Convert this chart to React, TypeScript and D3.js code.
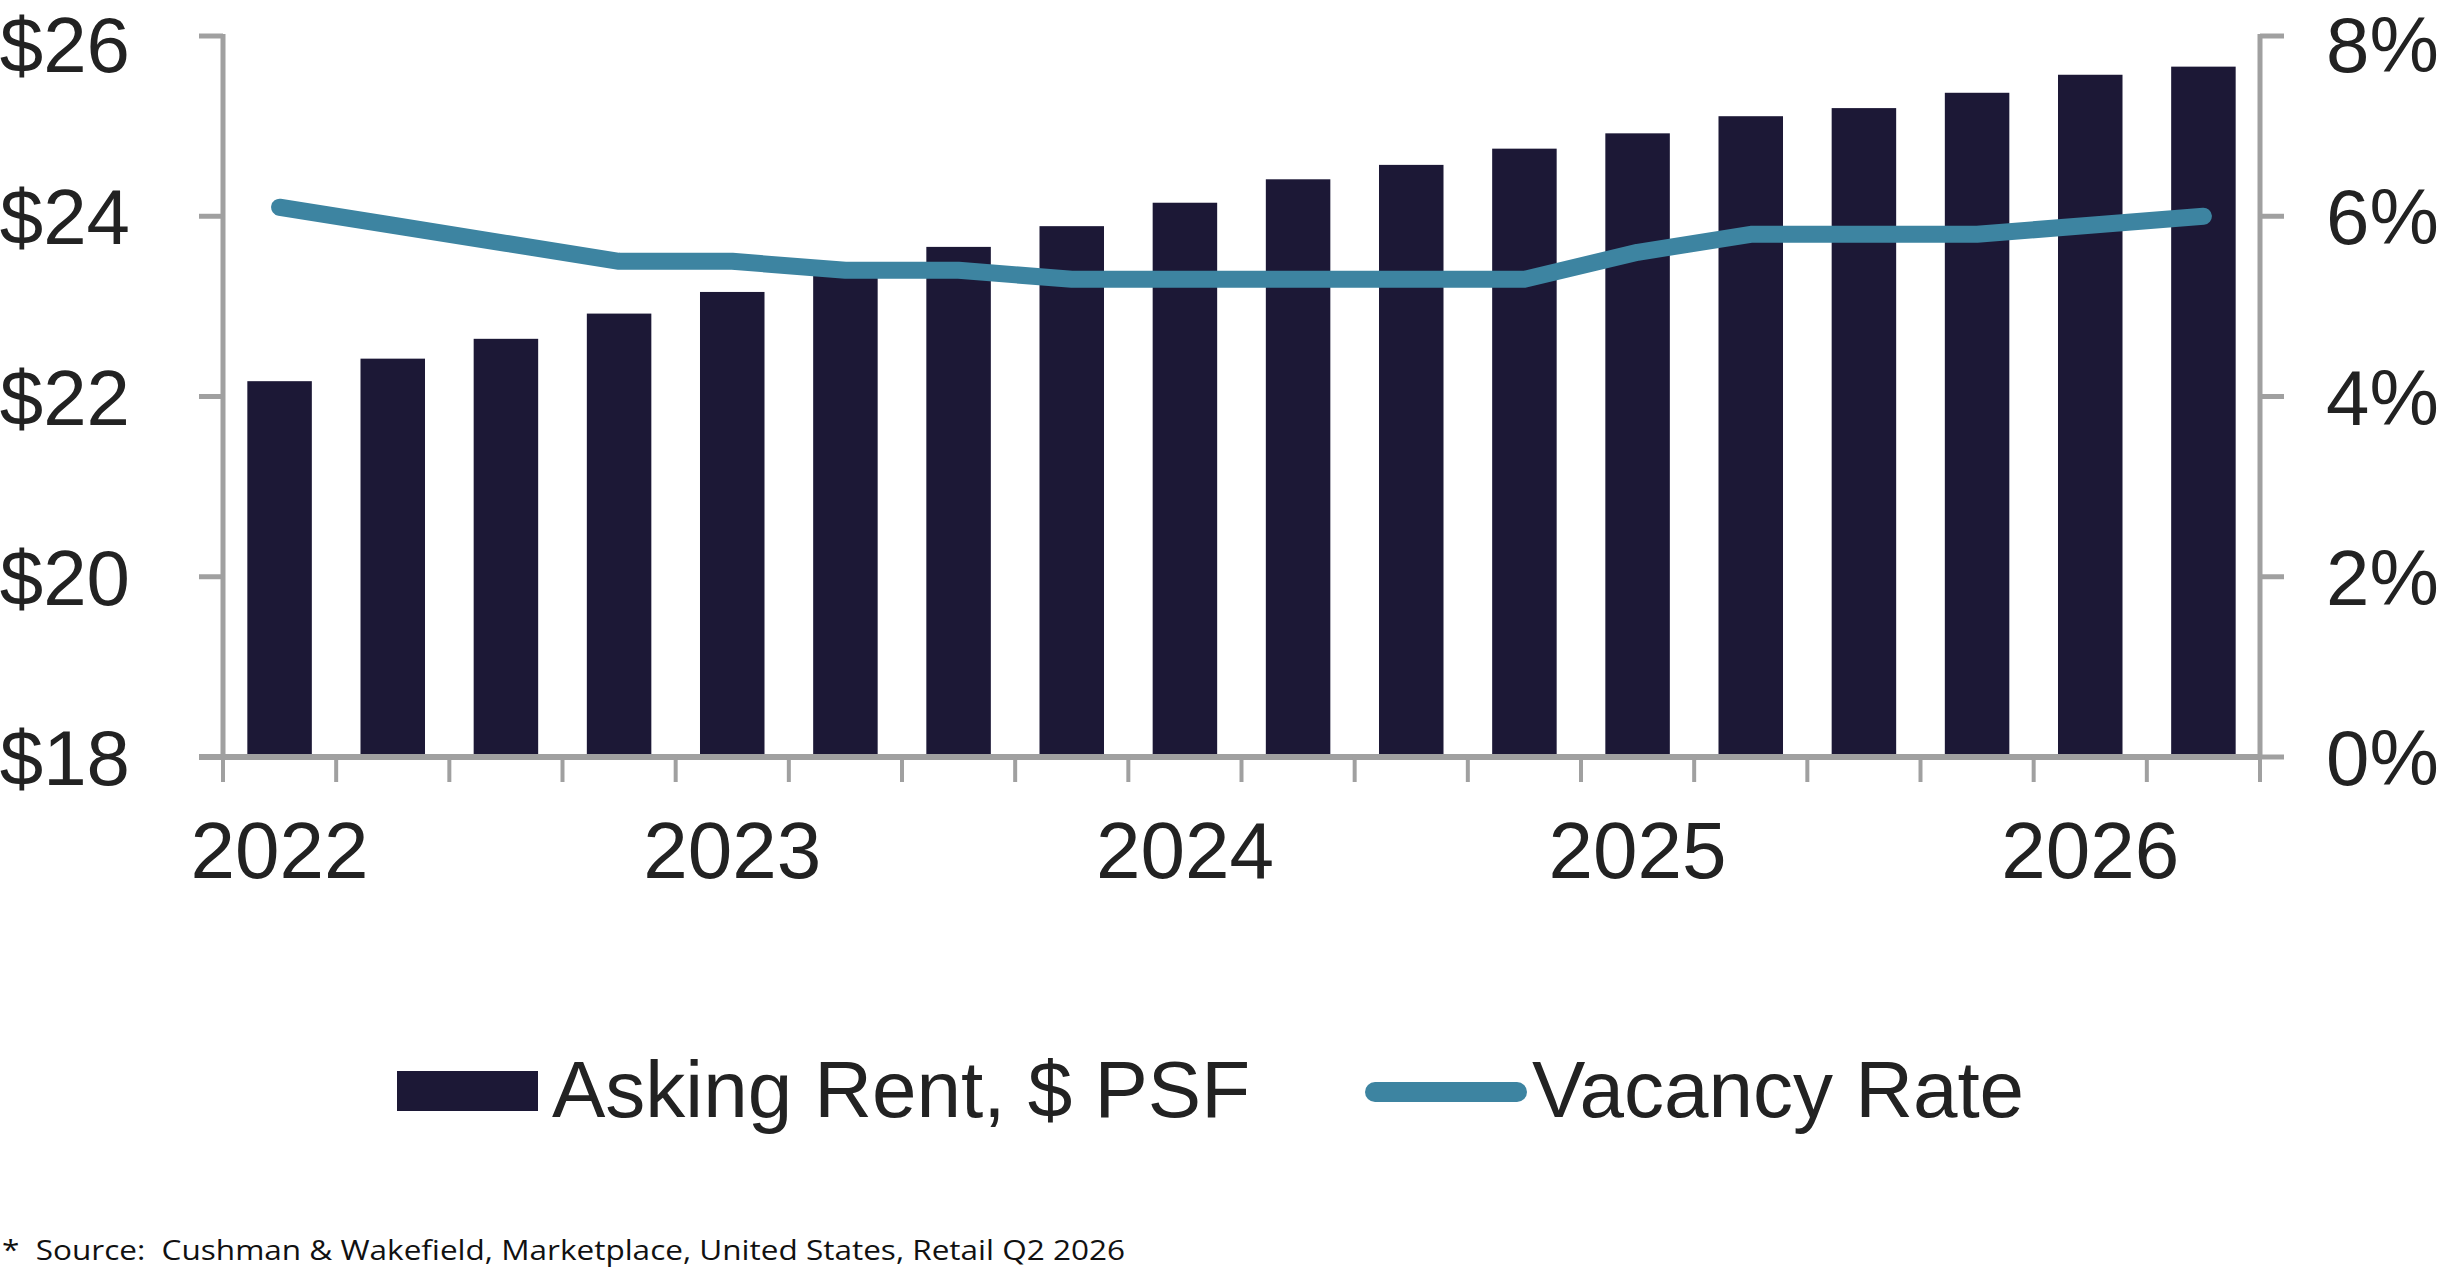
import * as d3 from "d3";

// quarterly series, 2022 Q1 .. 2026 Q2
const quarters = [
  "2022 Q1", "2022 Q2", "2022 Q3", "2022 Q4",
  "2023 Q1", "2023 Q2", "2023 Q3", "2023 Q4",
  "2024 Q1", "2024 Q2", "2024 Q3", "2024 Q4",
  "2025 Q1", "2025 Q2", "2025 Q3", "2025 Q4",
  "2026 Q1", "2026 Q2",
];

const askingRent = [
  22.17, 22.42, 22.64, 22.92, 23.16, 23.42, 23.66, 23.89, 24.15,
  24.41, 24.57, 24.75, 24.92, 25.11, 25.2, 25.37, 25.57, 25.66,
];

const vacancyRate = [
  6.1, 5.9, 5.7, 5.5, 5.5, 5.4, 5.4, 5.3, 5.3,
  5.3, 5.3, 5.3, 5.6, 5.8, 5.8, 5.8, 5.9, 6.0,
];

const rentTicks = [18, 20, 22, 24, 26];
const vacancyTicks = [0, 2, 4, 6, 8];
const yearLabels = ["2022", "2023", "2024", "2025", "2026"];

const BAR = "#1c1836";
const LINE = "#3d84a1";
const AXIS = "#a0a0a0";
const TEXT = "#222222";
const FONT = "'Liberation Sans', Arial, sans-serif";

export default function App() {
  const width = 2441;
  const height = 1273;
  const left = 223;
  const right = 2260;
  const top = 36;
  const bottom = 757;

  const x = d3.scaleBand<string>().domain(quarters).range([left, right]).paddingInner(0.43).paddingOuter(0.215);
  const yRent = d3.scaleLinear().domain([18, 26]).range([bottom, top]);
  const yVac = d3.scaleLinear().domain([0, 8]).range([bottom, top]);

  const cx = (q: string) => (x(q) ?? 0) + x.bandwidth() / 2;

  const line = d3
    .line<number>()
    .x((_, i) => cx(quarters[i]))
    .y((d) => yVac(d));

  // tick marks sit on band boundaries
  const step = x.step();
  const boundaries = d3.range(quarters.length + 1).map((i) => left + i * step);

  // keep the top label's box inside the picture
  const labelBase = (y: number) => Math.max(y + 28, 72);

  return (
    <svg
      width={width}
      height={height}
      style={{ position: "absolute", left: 0, top: 0, background: "#fff" }}
    >
      {/* bars */}
      {askingRent.map((v, i) => (
        <rect
          key={quarters[i]}
          x={x(quarters[i])}
          y={yRent(v)}
          width={x.bandwidth()}
          height={bottom - yRent(v)}
          fill={BAR}
        />
      ))}

      {/* left axis */}
      <line x1={left} x2={left} y1={top - 2} y2={bottom + 2} stroke={AXIS} strokeWidth={5} />
      {rentTicks.map((t) => (
        <g key={t}>
          <line x1={left - 24} x2={left} y1={yRent(t)} y2={yRent(t)} stroke={AXIS} strokeWidth={5} />
          <text
            x={130}
            y={labelBase(yRent(t))}
            textAnchor="end"
            fontFamily={FONT}
            fontSize={78}
            fill={TEXT}
          >
            ${t}
          </text>
        </g>
      ))}

      {/* right axis */}
      <line x1={right} x2={right} y1={top - 2} y2={bottom + 2} stroke={AXIS} strokeWidth={5} />
      {vacancyTicks.map((t) => (
        <g key={t}>
          <line x1={right} x2={right + 24} y1={yVac(t)} y2={yVac(t)} stroke={AXIS} strokeWidth={5} />
          <text
            x={2326}
            y={labelBase(yVac(t))}
            textAnchor="start"
            fontFamily={FONT}
            fontSize={78}
            fill={TEXT}
          >
            {t}%
          </text>
        </g>
      ))}

      {/* bottom axis */}
      <line x1={left - 24} x2={right} y1={bottom} y2={bottom} stroke={AXIS} strokeWidth={6} />
      {boundaries.map((b, i) => (
        <line key={i} x1={b} x2={b} y1={bottom} y2={bottom + 25} stroke={AXIS} strokeWidth={4} />
      ))}
      {yearLabels.map((yr) => (
        <text
          key={yr}
          x={cx(`${yr} Q1`)}
          y={878}
          textAnchor="middle"
          fontFamily={FONT}
          fontSize={80}
          fill={TEXT}
        >
          {yr}
        </text>
      ))}

      {/* vacancy line */}
      <path
        d={line(vacancyRate) ?? ""}
        fill="none"
        stroke={LINE}
        strokeWidth={17}
        strokeLinecap="round"
        strokeLinejoin="round"
      />

      {/* legend */}
      <rect x={397} y={1071} width={141} height={40} fill={BAR} />
      <text x={552} y={1117} fontFamily={FONT} fontSize={80} fill={TEXT}>
        Asking Rent, $ PSF
      </text>
      <line x1={1375} x2={1517} y1={1092} y2={1092} stroke={LINE} strokeWidth={20} strokeLinecap="round" />
      <text x={1532} y={1117} fontFamily={FONT} fontSize={80} fill={TEXT}>
        Vacancy Rate
      </text>

      {/* footnote */}
      <text
        x={2}
        y={1260}
        fontFamily="'Open Sans', sans-serif"
        fontSize={27}
        fill="#111"
        textLength={1123}
        lengthAdjust="spacingAndGlyphs"
        style={{ whiteSpace: "pre" }}
      >
        {"*  Source:  Cushman & Wakefield, Marketplace, United States, Retail Q2 2026"}
      </text>
    </svg>
  );
}
